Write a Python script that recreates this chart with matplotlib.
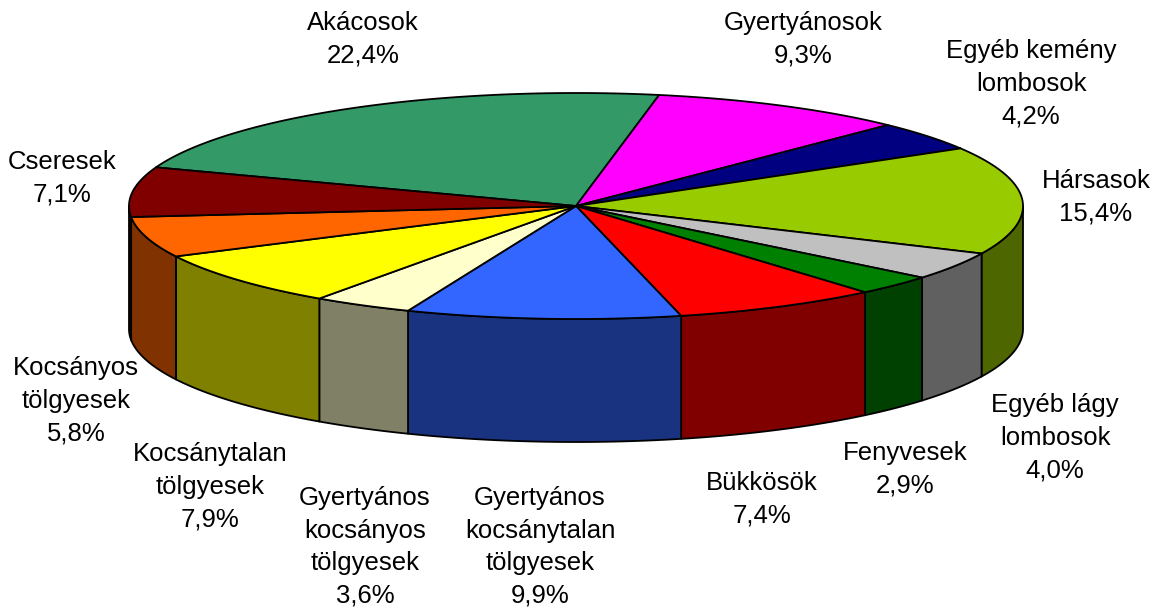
import numpy as np
import matplotlib.pyplot as plt

# Data (clockwise, first slice Akácosok)
labels = ['Akácosok', 'Gyertyánosok', 'Egyéb kemény\nlombosok', 'Hársasok',
          'Egyéb lágy\nlombosok', 'Fenyvesek', 'Bükkösök',
          'Gyertyános\nkocsánytalan\ntölgyesek', 'Gyertyános\nkocsányos\ntölgyesek',
          'Kocsánytalan\ntölgyesek', 'Kocsányos\ntölgyesek', 'Cseresek']
values = [22.4, 9.3, 4.2, 15.4, 4.0, 2.9, 7.4, 9.9, 3.6, 7.9, 5.8, 7.1]

# Styles
colors = ['#339966', '#FF00FF', '#000080', '#99CC00', '#C0C0C0', '#008000',
          '#FF0000', '#3366FF', '#FFFFCC', '#FFFF00', '#FF6600', '#800000']
label_pos = [(363, 39), (803, 39), (1031, 84), (1096, 197), (1055, 438),
             (905, 469), (762, 499), (540, 547), (365, 547), (210, 487),
             (76, 401), (62, 178)]

# Pie geometry in pixel coordinates
cx, cy = 576, 206
a, b = 447, 113
depth = 123
start = 160.0

plt.rcParams['font.family'] = ['Liberation Sans', 'DejaVu Sans']

fig = plt.figure(figsize=(11.57, 6.13), dpi=100)
ax = fig.add_axes([0, 0, 1, 1])
ax.set_xlim(0, 1157)
ax.set_ylim(613, 0)
ax.axis('off')


def arc(t1, t2, n=200, dy=0):
    t = np.radians(np.linspace(t1, t2, n))
    return cx + a * np.cos(t), cy - b * np.sin(t) + dy


def darker(c):
    r, g, bl = [int(c[i:i + 2], 16) / 255 for i in (1, 3, 5)]
    return (r * 0.5, g * 0.5, bl * 0.5)


total = sum(values)
angles = []
t = start
for v in values:
    sweep = v / total * 360
    angles.append((t, t - sweep))
    t -= sweep

# side walls (front half only)
for (t1, t2), c in zip(angles, colors):
    lo, hi = max(t2, -180), min(t1, 0)
    if hi <= lo:
        continue
    xs, ys = arc(hi, lo)
    xb, yb = arc(lo, hi, dy=depth)
    ax.fill(np.r_[xs, xb], np.r_[ys, yb], facecolor=darker(c),
            edgecolor='black', linewidth=1.3, joinstyle='round')

# top faces
for (t1, t2), c in zip(angles, colors):
    xs, ys = arc(t1, t2)
    ax.fill(np.r_[cx, xs], np.r_[cy, ys], facecolor=c,
            edgecolor='black', linewidth=1.3, joinstyle='round')

# labels
for name, v, (lx, ly) in zip(labels, values, label_pos):
    txt = name + '\n' + f'{v:.1f}%'.replace('.', ',')
    ax.text(lx, ly, txt, ha='center', va='center', multialignment='center',
            fontsize=18.5, linespacing=1.45, color='black')

fig.savefig('out.png', dpi=100)
